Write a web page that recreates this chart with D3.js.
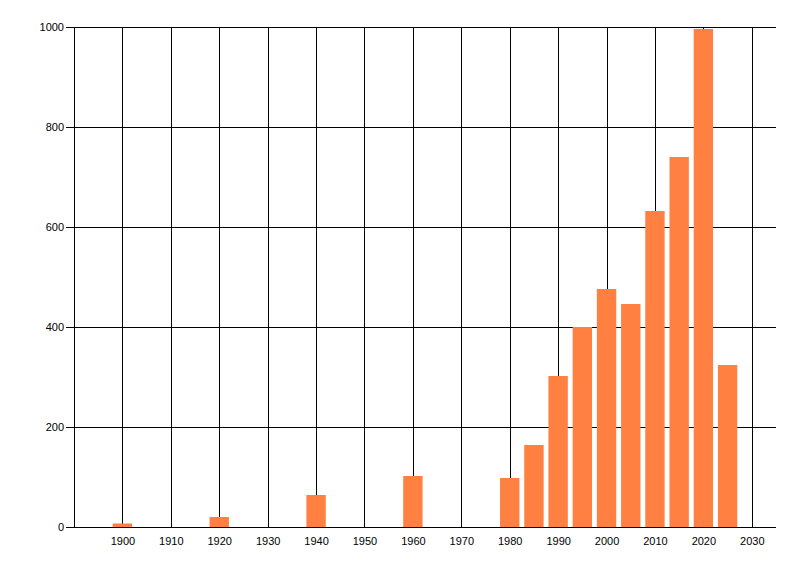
<!DOCTYPE html>
<html>
<head>
<meta charset="utf-8">
<script src="https://cdn.jsdelivr.net/npm/d3@7"></script>
<style>
  body { margin: 0; background: #fff; }
  text { font-family: "Liberation Sans", Arial, sans-serif; font-size: 11px; fill: #000; }
</style>
</head>
<body>
<div id="chart"></div>
<script>
// values
var years = [1900, 1920, 1940, 1960, 1980, 1985, 1990, 1995, 2000, 2005, 2010, 2015, 2020, 2025];
var counts = [7, 20, 64, 102, 98, 164, 302, 400, 476, 446, 632, 740, 996, 324];
var xTicks = [1900, 1910, 1920, 1930, 1940, 1950, 1960, 1970, 1980, 1990, 2000, 2010, 2020, 2030];
var yTicks = [0, 200, 400, 600, 800, 1000];

var width = 800, height = 576;
// plot box (window.top is taken, so use own names)
var plotLeft = 74, plotRight = 776, plotTop = 27, plotBottom = 527;

var x = d3.scaleLinear().domain([1890, 2035]).range([plotLeft, plotRight]);
var y = d3.scaleLinear().domain([0, 1000]).range([plotBottom, plotTop]);

var svg = d3.select('#chart')
  .append('svg')
    .attr('width', width)
    .attr('height', height);

// vertical grid at every decade
svg.append('g')
  .selectAll('line')
  .data(xTicks)
  .enter()
    .append('line')
      .attr('x1', function (d) { return Math.round(x(d)) + 0.5; })
      .attr('x2', function (d) { return Math.round(x(d)) + 0.5; })
      .attr('y1', plotTop)
      .attr('y2', plotBottom)
      .attr('stroke', '#000');

// horizontal grid + y ticks
svg.append('g')
  .selectAll('line')
  .data(yTicks)
  .enter()
    .append('line')
      .attr('x1', plotLeft - 8)
      .attr('x2', plotRight)
      .attr('y1', function (d) { return Math.round(y(d)) + 0.5; })
      .attr('y2', function (d) { return Math.round(y(d)) + 0.5; })
      .attr('stroke', '#000');

// left axis line
svg.append('line')
  .attr('x1', plotLeft + 0.5).attr('x2', plotLeft + 0.5)
  .attr('y1', plotTop).attr('y2', plotBottom)
  .attr('stroke', '#000');

// bars, 4 years wide, centred on the year
svg.append('g')
  .selectAll('rect')
  .data(years)
  .enter()
    .append('rect')
      .attr('x', function (d) { return x(d - 2); })
      .attr('width', function (d) { return x(d + 2) - x(d - 2); })
      .attr('y', function (d, i) { return y(counts[i]); })
      .attr('height', function (d, i) { return y(0) - y(counts[i]); })
      .attr('fill', '#ff8041');

// redraw the baseline on top of the bars
svg.append('line')
  .attr('x1', plotLeft - 8).attr('x2', plotRight)
  .attr('y1', Math.round(y(0)) + 0.5).attr('y2', Math.round(y(0)) + 0.5)
  .attr('stroke', '#000');

// labels
svg.append('g')
  .selectAll('text')
  .data(yTicks)
  .enter()
    .append('text')
      .attr('x', plotLeft - 10)
      .attr('y', function (d) { return y(d) + 4; })
      .attr('text-anchor', 'end')
      .text(function (d) { return d; });

svg.append('g')
  .selectAll('text')
  .data(xTicks)
  .enter()
    .append('text')
      .attr('x', function (d) { return x(d) + 0.5; })
      .attr('y', plotBottom + 18)
      .attr('text-anchor', 'middle')
      .text(function (d) { return d; });
</script>
</body>
</html>
